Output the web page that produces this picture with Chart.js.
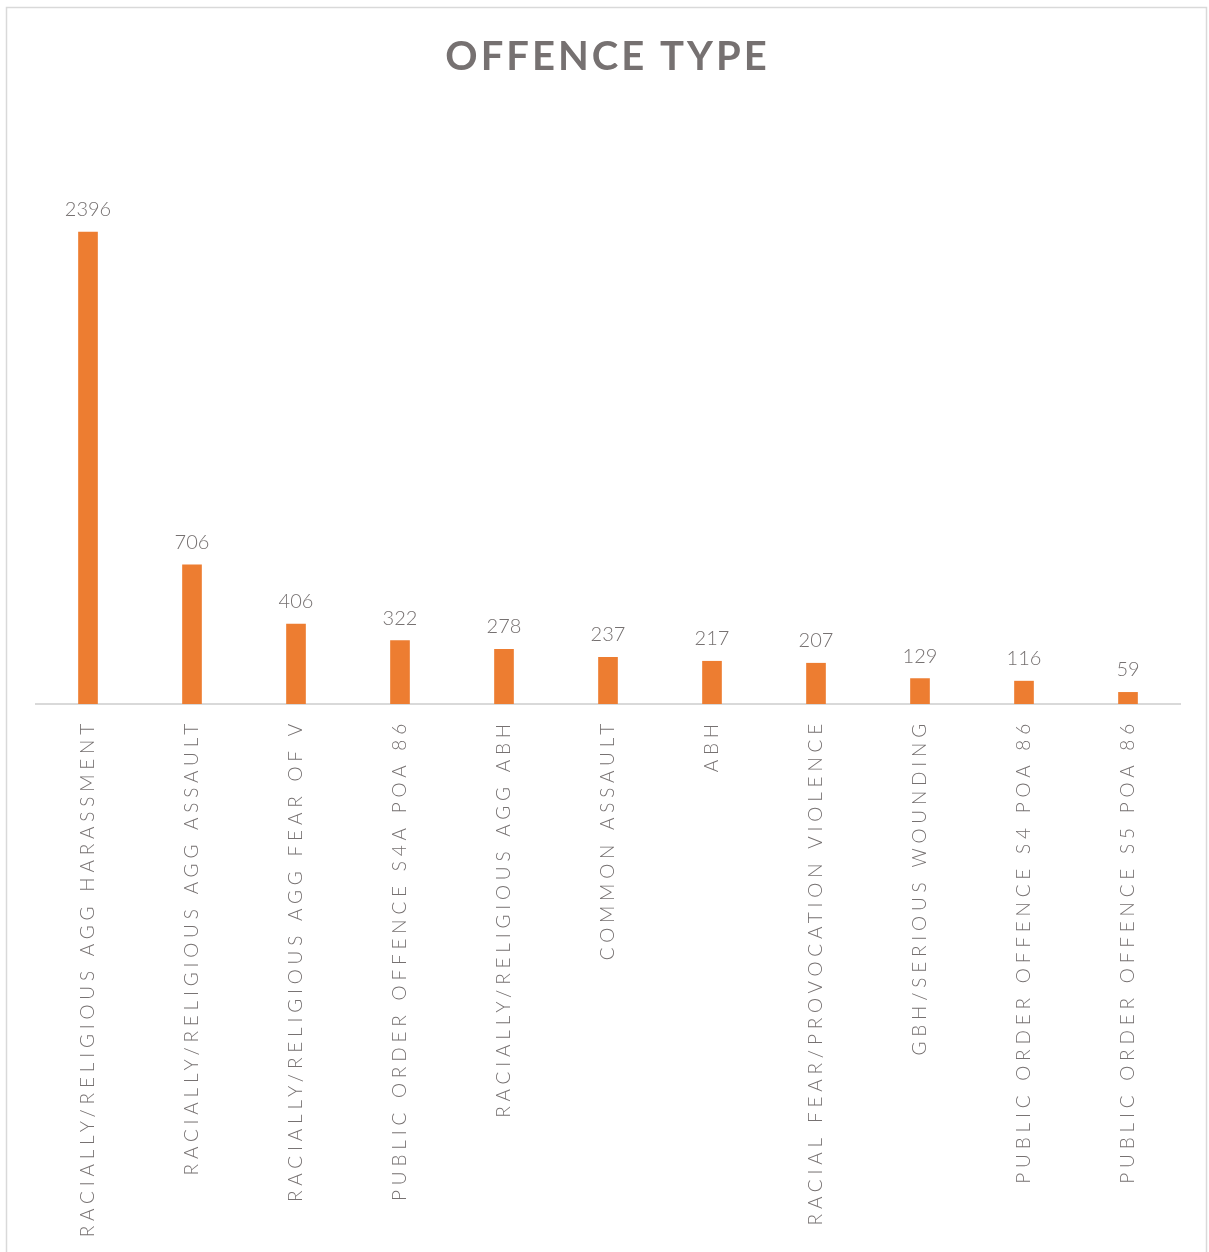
<!DOCTYPE html>
<html>
<head>
<meta charset="utf-8">
<script src="https://cdn.jsdelivr.net/npm/chart.js@4.4.0/dist/chart.umd.min.js"></script>
<style>
  html, body { margin: 0; padding: 0; background: #fff; }
  #wrap { position: relative; width: 1209px; height: 1252px; }
</style>
</head>
<body>
<div id="wrap"><canvas id="offencechart"></canvas></div>
<script>
const offenceTypes = [
  'RACIALLY/RELIGIOUS AGG HARASSMENT',
  'RACIALLY/RELIGIOUS AGG ASSAULT',
  'RACIALLY/RELIGIOUS AGG FEAR OF V',
  'PUBLIC ORDER OFFENCE S4A POA 86',
  'RACIALLY/RELIGIOUS AGG ABH',
  'COMMON ASSAULT',
  'ABH',
  'RACIAL FEAR/PROVOCATION VIOLENCE',
  'GBH/SERIOUS WOUNDING',
  'PUBLIC ORDER OFFENCE S4 POA 86',
  'PUBLIC ORDER OFFENCE S5 POA 86'
];
const offenceCounts = [2396, 706, 406, 322, 278, 237, 217, 207, 129, 116, 59];
const chartTitle = 'OFFENCE TYPE';

const textGrey = '#767171';
const fontFamily = 'Lato, "Open Sans", sans-serif';
const tickSpacing = '4.8px';

// spaced-out lettering for the category labels, plus frame, title and value labels
const decor = {
  id: 'decor',
  beforeLayout(chart) {
    chart.ctx.letterSpacing = tickSpacing;
  },
  beforeDraw(chart) {
    const ctx = chart.ctx;
    ctx.save();
    ctx.strokeStyle = '#d9d9d9';
    ctx.lineWidth = 1.5;
    ctx.strokeRect(6.5, 7.5, 1200, 1300);
    ctx.restore();
    ctx.letterSpacing = tickSpacing;
  },
  afterDatasetsDraw(chart) {
    const ctx = chart.ctx;
    const meta = chart.getDatasetMeta(0);
    ctx.save();
    ctx.letterSpacing = '0px';
    ctx.font = '300 20px ' + fontFamily;
    ctx.fillStyle = textGrey;
    ctx.textAlign = 'center';
    ctx.textBaseline = 'alphabetic';
    meta.data.forEach((bar, i) => {
      ctx.fillText(String(offenceCounts[i]), bar.x, bar.y - 16);
    });
    ctx.restore();
  },
  afterDraw(chart) {
    const ctx = chart.ctx;
    ctx.save();
    ctx.letterSpacing = '3px';
    ctx.font = 'bold 40px ' + fontFamily;
    ctx.fillStyle = textGrey;
    ctx.textAlign = 'center';
    ctx.textBaseline = 'alphabetic';
    ctx.fillText(chartTitle, 606 + 1.5, 70);
    ctx.restore();
  }
};

new Chart(document.getElementById('offencechart'), {
  type: 'bar',
  data: {
    labels: offenceTypes,
    datasets: [{
      data: offenceCounts,
      backgroundColor: '#ED7D31',
      barThickness: 19
    }]
  },
  options: {
    responsive: true,
    maintainAspectRatio: false,
    animation: false,
    layout: { padding: { top: 113, left: 36, right: 29, bottom: 0 } },
    plugins: {
      legend: { display: false },
      title: { display: false },
      tooltip: { enabled: false }
    },
    scales: {
      x: {
        grid: { display: false },
        border: { display: true, color: '#d9d9d9', width: 2 },
        ticks: {
          color: textGrey,
          font: { family: fontFamily, size: 19, weight: 300 },
          minRotation: 90,
          maxRotation: 90,
          autoSkip: false,
          padding: 7
        },
        afterFit(scale) { scale.height = 548; }
      },
      y: {
        display: false,
        min: 0,
        max: 3000
      }
    }
  },
  plugins: [decor]
});
</script>
</body>
</html>
